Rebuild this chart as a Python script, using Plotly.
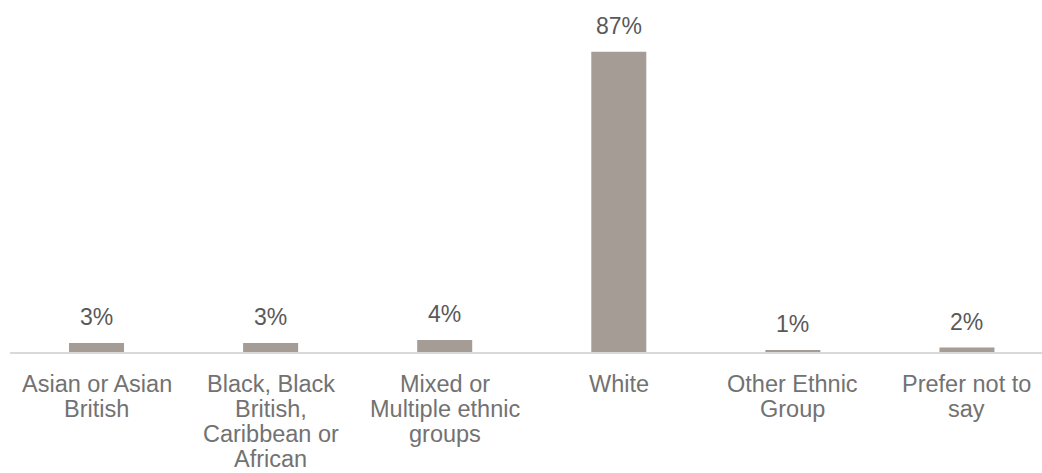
import plotly.graph_objects as go

categories = [
    "Asian or Asian<br>British",
    "Black, Black<br>British,<br>Caribbean or<br>African",
    "Mixed or<br>Multiple ethnic<br>groups",
    "White",
    "Other Ethnic<br>Group",
    "Prefer not to<br>say",
]
values = [2.6, 2.6, 3.5, 87.0, 0.6, 1.3]
labels = ["3%", "3%", "4%", "87%", "1%", "2%"]

bar_color = "#A59C96"
font_family = "Liberation Sans, Arial, sans-serif"
label_size = 23
cat_size = 23.5
line_step = 25.3

fig = go.Figure()
fig.add_trace(go.Bar(
    x=categories,
    y=values,
    marker=dict(color=bar_color, line=dict(width=0)),
    width=0.316,
    hoverinfo="skip",
))

# data labels above bars
for c, v, t in zip(categories, values, labels):
    fig.add_annotation(
        x=c, y=v, text=t, showarrow=False,
        yanchor="middle", yshift=26,
        font=dict(family=font_family, size=label_size, color="#595959"),
    )

# category labels (one annotation per wrapped line, for tighter line spacing)
for c in categories:
    for i, line in enumerate(c.split("<br>")):
        fig.add_annotation(
            x=c, y=0, xref="x", yref="paper", text=line, showarrow=False,
            yanchor="middle", yshift=-(31.5 + i * line_step), borderpad=0,
            font=dict(family=font_family, size=cat_size, color="#727272"),
        )

fig.update_layout(
    width=1042, height=473,
    margin=dict(l=10, r=0, t=7, b=121),
    paper_bgcolor="white", plot_bgcolor="white",
    showlegend=False,
    font=dict(family=font_family, size=cat_size, color="#727272"),
    xaxis=dict(
        type="category",
        range=[-0.497, 5.431],
        showline=True, linecolor="#D9D9D9", linewidth=2,
        ticks="", showgrid=False, zeroline=False, showticklabels=False,
    ),
    yaxis=dict(
        range=[0, 100], visible=False, showgrid=False, zeroline=False,
    ),
)

fig.write_html("out.html")
